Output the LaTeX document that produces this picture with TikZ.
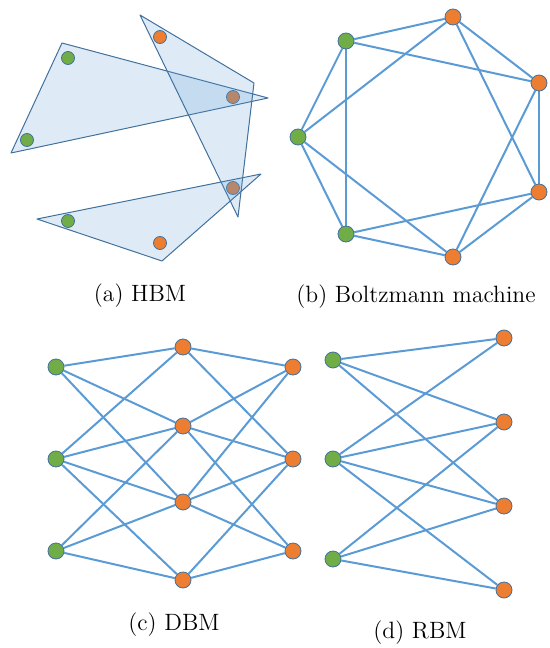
\documentclass[tikz,border=0pt]{standalone}
\usetikzlibrary{backgrounds}
\definecolor{visgreen}{HTML}{70AD47}
\definecolor{hidorange}{HTML}{ED7D31}
\definecolor{edgeblue}{HTML}{5B9BD5}
\definecolor{rimblue}{HTML}{41719C}
\tikzset{
  unit/.style={circle, draw=rimblue, line width=.4pt, inner sep=0pt, minimum size=8pt},
  vis/.style={unit, fill=visgreen},
  hid/.style={unit, fill=hidorange},
  link/.style={edgeblue, line width=1pt},
  clique/.style={draw=rimblue, line width=.5pt, fill=edgeblue, fill opacity=.2},
}
\begin{document}
\begin{tikzpicture}[x=.5pt, y=-.5pt, font=\fontsize{11.8}{14}\selectfont, line join=round]
	\useasboundingbox (0,0) rectangle (550,648);
	% (a) HBM
	\node[hid, minimum size=6.5pt] (a4) at (233,97) {};
	\node[hid, minimum size=6.5pt] (a5) at (233,188) {};
	\draw[clique] (62,43)--(268,98)--(11,153)--cycle;
	\draw[clique] (140,15)--(254,83)--(238,217)--cycle;
	\draw[clique] (37,219)--(261,174)--(162,261)--cycle;
	\node[vis, minimum size=6.5pt] (a1) at (68,58) {};
	\node[vis, minimum size=6.5pt] (a2) at (27,140) {};
	\node[hid, minimum size=6.5pt] (a3) at (160,37) {};
	\node[vis, minimum size=6.5pt] (a6) at (68,221) {};
	\node[hid, minimum size=6.5pt] (a7) at (160,243) {};
	\node (capa) at (140,296) {(a) HBM};
	
	% (b) Boltzmann machine
	\node[vis] (b1) at (346,41) {};
	\node[hid] (b2) at (453,17) {};
	\node[hid] (b3) at (539,83) {};
	\node[hid] (b4) at (539,192) {};
	\node[hid] (b5) at (453,257) {};
	\node[vis] (b6) at (346,234) {};
	\node[vis] (b7) at (298,137) {};
	\begin{scope}[on background layer]
		\foreach \i/\j in {1/2,2/3,3/4,4/5,5/6,6/7,7/1,1/3,2/4,3/5,4/6,5/7,6/1,7/2}
			\draw[link] (b\i)--(b\j);
	\end{scope}
	\node (capb) at (416,297) {(b) Boltzmann machine};
	
	% (c) DBM
	\foreach \n/\y in {1/367,2/459,3/551}{
		\node[vis] (l\n) at (56,\y) {};
		\node[hid] (r\n) at (293,\y) {};
	}
	\foreach \n/\y in {1/347,2/426,3/502,4/580}
		\node[hid] (m\n) at (183,\y) {};
	\begin{scope}[on background layer]
		\foreach \i/\j in {1/1,1/2,1/3,2/1,2/2,2/3,2/4,3/2,3/3,3/4}{
			\draw[link] (l\i)--(m\j);
			\draw[link] (r\i)--(m\j);
		}
	\end{scope}
	\node (capc) at (174,625) {(c) DBM};
	
	% (d) RBM
	\foreach \n/\y in {1/360,2/459,3/559}
		\node[vis] (v\n) at (333,\y) {};
	\foreach \n/\y in {1/338,2/422,3/506,4/590}
		\node[hid] (h\n) at (504,\y) {};
	\begin{scope}[on background layer]
		\foreach \i/\j in {1/1,1/2,1/3,2/1,2/2,2/3,2/4,3/2,3/3,3/4}
			\draw[link] (v\i)--(h\j);
	\end{scope}
	\node (capd) at (420,633) {(d) RBM};
\end{tikzpicture}
\end{document}
